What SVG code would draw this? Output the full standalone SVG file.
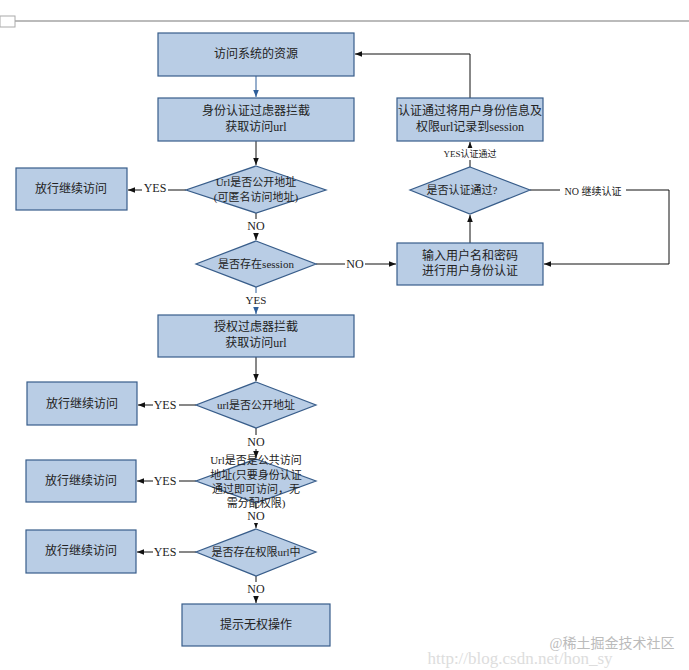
<svg xmlns="http://www.w3.org/2000/svg" width="689" height="670" viewBox="0 0 689 670">
<style>
.n{fill:#b9cde5;stroke:#385d8a;stroke-width:1.2}
text{font-family:"Liberation Serif","Noto Sans CJK SC",serif;font-size:12px;fill:#222;text-anchor:middle;dominant-baseline:central}
.l{font-size:11px}
.c{fill:none;stroke:#111;stroke-width:1}
</style>
<defs><marker id="a" viewBox="0 0 10 10" refX="10" refY="5" markerWidth="7" markerHeight="7" orient="auto"><path d="M0,1L10,5L0,9z" fill="#111"/></marker>
<marker id="b" viewBox="0 0 10 10" refX="10" refY="5" markerWidth="7" markerHeight="7" orient="auto"><path d="M0,1L10,5L0,9z" fill="#2f5f9a"/></marker></defs>
<rect width="689" height="670" fill="#fff"/>
<line x1="0" y1="21" x2="689" y2="21" stroke="#bbb" stroke-width="2"/>
<rect x="0" y="16" width="15" height="11" fill="#fff" stroke="#aaa"/>
<g id="connectors">
<path class="c" d="M256,76V97" style="stroke:#2f5f9a" marker-end="url(#b)"/>
<path class="c" d="M256,141V165" marker-end="url(#a)"/>
<path class="c" d="M186,190H128" marker-end="url(#a)"/>
<path class="c" d="M256,213V240" marker-end="url(#a)"/>
<path class="c" d="M316,264H396" marker-end="url(#a)"/>
<path class="c" d="M256,287V314" style="stroke:#2f5f9a" marker-end="url(#b)"/>
<path class="c" d="M256,357V381" marker-end="url(#a)"/>
<path class="c" d="M196,405H138" marker-end="url(#a)"/>
<path class="c" d="M256,428V458" marker-end="url(#a)"/>
<path class="c" d="M196,481H137" marker-end="url(#a)"/>
<path class="c" d="M256,503V528" marker-end="url(#a)"/>
<path class="c" d="M196,552H137" marker-end="url(#a)"/>
<path class="c" d="M256,576V603" marker-end="url(#a)"/>
<path class="c" d="M470,243V215" marker-end="url(#a)"/>
<path class="c" d="M470,167V142" marker-end="url(#a)"/>
<path class="c" d="M470,98V54H355" marker-end="url(#a)"/>
<path class="c" d="M530,190H669V264H544" marker-end="url(#a)"/>
<g>
<rect x="142" y="181" width="26" height="14" fill="#fff"/><text x="155" y="188">YES</text>
<rect x="246" y="219" width="20" height="14" fill="#fff"/><text x="256" y="226">NO</text>
<rect x="345" y="257" width="20" height="14" fill="#fff"/><text x="355" y="264">NO</text>
<rect x="243" y="293" width="26" height="14" fill="#fff"/><text x="256" y="300" class="l">YES</text>
<rect x="153" y="398" width="26" height="14" fill="#fff"/><text x="165" y="405">YES</text>
<rect x="246" y="435" width="20" height="14" fill="#fff"/><text x="256" y="442">NO</text>
<rect x="153" y="474" width="26" height="14" fill="#fff"/><text x="165" y="481">YES</text>
<rect x="246" y="509" width="20" height="14" fill="#fff"/><text x="256" y="516">NO</text>
<rect x="153" y="545" width="26" height="14" fill="#fff"/><text x="165" y="552">YES</text>
<rect x="246" y="582" width="20" height="14" fill="#fff"/><text x="256" y="589">NO</text>
<rect x="444" y="148" width="52" height="12" fill="#fff"/><text x="470" y="154" style="font-size:9px">YES认证通过</text>
<rect x="560" y="184" width="66" height="13" fill="#fff"/><text x="593" y="191" style="font-size:10px">NO  继续认证</text>
</g>
</g>
<g id="n1"><rect class="n" x="158" y="33" width="196" height="43"/><text x="256" y="54">访问系统的资源</text></g>
<g id="n2"><rect class="n" x="158" y="98" width="196" height="43"/><text x="256" y="111">身份认证过虑器拦截</text><text x="256" y="127">获取访问url</text></g>
<g id="d1"><polygon class="n" points="256,166 326,190 256,213 186,190"/><text x="256" y="182" class="l">Url是否公开地址</text><text x="256" y="197" class="l">(可匿名访问地址)</text></g>
<g id="p1"><rect class="n" x="16" y="168" width="111" height="42"/><text x="71" y="189">放行继续访问</text></g>
<g id="d2"><polygon class="n" points="256,241 316,264 256,287 196,264"/><text x="256" y="264" class="l">是否存在session</text></g>
<g id="n3"><rect class="n" x="158" y="315" width="196" height="42"/><text x="256" y="327">授权过虑器拦截</text><text x="256" y="343">获取访问url</text></g>
<g id="d3"><polygon class="n" points="256,382 316,405 256,428 196,405"/><text x="256" y="405" class="l">url是否公开地址</text></g>
<g id="p2"><rect class="n" x="27" y="382" width="110" height="43"/><text x="82" y="404">放行继续访问</text></g>
<g id="d4"><polygon class="n" points="256,459 316,481 256,503 196,481"/><text x="256" y="460" class="l">Url是否是公共访问</text><text x="256" y="475" class="l">地址(只要身份认证</text><text x="256" y="489" class="l">通过即可访问，无</text><text x="256" y="503" class="l">需分配权限)</text></g>
<g id="p3"><rect class="n" x="26" y="460" width="110" height="42"/><text x="81" y="481">放行继续访问</text></g>
<g id="d5"><polygon class="n" points="256,529 316,552 256,576 196,552"/><text x="256" y="552" class="l">是否存在权限url中</text></g>
<g id="p4"><rect class="n" x="26" y="530" width="110" height="43"/><text x="81" y="551">放行继续访问</text></g>
<g id="n4"><rect class="n" x="182" y="604" width="148" height="42"/><text x="256" y="625">提示无权操作</text></g>
<g id="r1"><rect class="n" x="397" y="98" width="146" height="43"/><text x="470" y="111">认证通过将用户身份信息及</text><text x="470" y="127">权限url记录到session</text></g>
<g id="dr"><polygon class="n" points="470,167 530,190 470,214 410,190"/><text x="462" y="190" class="l">是否认证通过?</text></g>
<g id="r2"><rect class="n" x="397" y="243" width="146" height="42"/><text x="470" y="256">输入用户名和密码</text><text x="470" y="271">进行用户身份认证</text></g>
<text x="520" y="658" style="font-size:17px;fill:#ddd">http://blog.csdn.net/hon_sy</text>
<text x="612" y="643" style="font-size:14px;fill:#bbb">@稀土掘金技术社区</text>
</svg>
